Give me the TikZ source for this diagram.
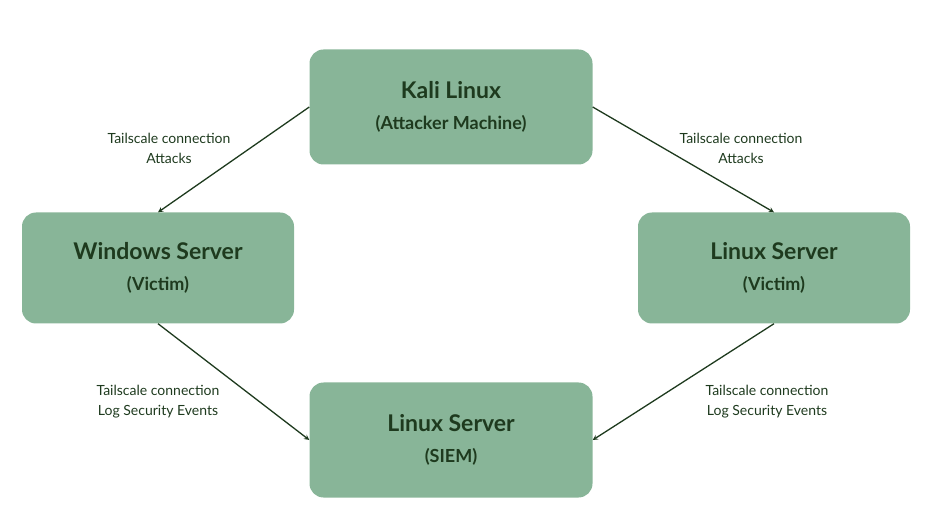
\documentclass[tikz,border=0pt]{standalone}
\usepackage{fontspec}
\setmainfont{Lato}
\usetikzlibrary{positioning}
\definecolor{boxgreen}{HTML}{88B598}
\definecolor{txtgreen}{HTML}{1E3A1E}
\tikzset{
  host/.style={fill=boxgreen, rounded corners=14pt, minimum width=283pt, minimum height=115pt,
    align=center, text=txtgreen, font=\bfseries\fontsize{23}{31}\selectfont},
  link/.style={-stealth, draw=txtgreen, line width=1.3pt},
  note/.style={align=center, text=txtgreen, font=\fontsize{14}{20}\selectfont}
}
\newcommand{\sub}[1]{{\fontsize{18}{26}\selectfont #1}}
\begin{document}
\begin{tikzpicture}[x=1pt, y=1pt]
  \useasboundingbox (0,0) rectangle (940,528);
  % hosts
  \node[host] (kali) at (451,421) {Kali Linux\\\sub{(Attacker Machine)}};
  \node[host, minimum width=272pt, minimum height=111pt] (win) at (158,260) {Windows Server\\\sub{(Victim)}};
  \node[host, minimum width=272pt, minimum height=111pt] (lin) at (774,260) {Linux Server\\\sub{(Victim)}};
  \node[host] (siem) at (451,88) {Linux Server\\\sub{(SIEM)}};
  % connections
  \draw[link] (kali.west) -- (win.north);
  \draw[link] (kali.east) -- (lin.north);
  \draw[link] (win.south) -- (siem.west);
  \draw[link] (lin.south) -- (siem.east);
  % labels
  \node[note] (n1) at (169,380) {Tailscale connection\\Attacks};
  \node[note] (n2) at (741,380) {Tailscale connection\\Attacks};
  \node[note] (n3) at (158,126) {Tailscale connection\\Log Security Events};
  \node[note] (n4) at (767,126) {Tailscale connection\\Log Security Events};
\end{tikzpicture}
\end{document}
